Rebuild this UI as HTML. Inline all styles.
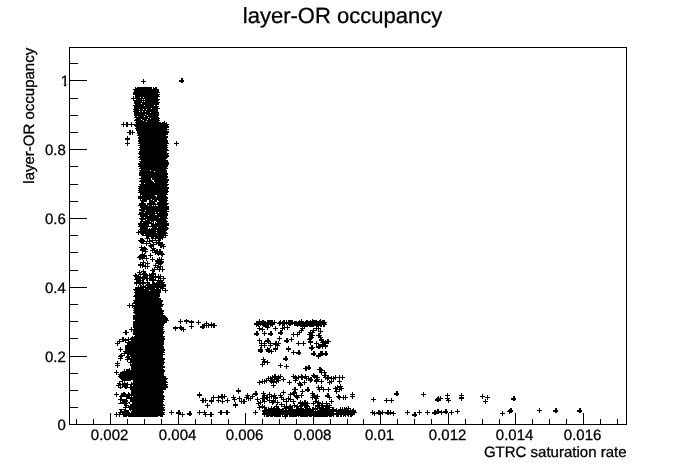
<!DOCTYPE html>
<html><head><meta charset="utf-8"><title>layer-OR occupancy</title>
<style>html,body{margin:0;padding:0;background:#fff}svg{display:block}text{font-family:"Liberation Sans",Arial,Helvetica,sans-serif;fill:#000;stroke:#000;stroke-width:0.3px;text-rendering:geometricPrecision}</style></head>
<body>
<svg width="696" height="472" viewBox="0 0 696 472">
<rect width="696" height="472" fill="#fff"/>
<g shape-rendering="crispEdges" stroke="#000" stroke-width="1" fill="none">
<rect x="69.5" y="47.5" width="557" height="377"/>
<path d="M76.5 424v-5M93.5 424v-5M110.5 424v-11M127.5 424v-5M144.5 424v-5M161.5 424v-5M178.5 424v-11M195.5 424v-5M211.5 424v-5M228.5 424v-5M245.5 424v-11M262.5 424v-5M279.5 424v-5M296.5 424v-5M313.5 424v-11M330.5 424v-5M347.5 424v-5M363.5 424v-5M380.5 424v-11M397.5 424v-5M414.5 424v-5M431.5 424v-5M448.5 424v-11M465.5 424v-5M482.5 424v-5M499.5 424v-5M515.5 424v-11M532.5 424v-5M549.5 424v-5M566.5 424v-5M583.5 424v-11M600.5 424v-5M617.5 424v-5M70 407.5h8M70 390.5h8M70 373.5h8M70 356.5h17M70 338.5h8M70 321.5h8M70 304.5h8M70 287.5h17M70 270.5h8M70 252.5h8M70 235.5h8M70 218.5h17M70 201.5h8M70 184.5h8M70 166.5h8M70 149.5h17M70 132.5h8M70 115.5h8M70 98.5h8M70 80.5h17M70 63.5h8"/>
</g>
<g font-size="15">
<text x="109.6" y="440" text-anchor="middle">0.002</text>
<text x="177.6" y="440" text-anchor="middle">0.004</text>
<text x="244.6" y="440" text-anchor="middle">0.006</text>
<text x="312.6" y="440" text-anchor="middle">0.008</text>
<text x="379.6" y="440" text-anchor="middle">0.01</text>
<text x="447.6" y="440" text-anchor="middle">0.012</text>
<text x="514.6" y="440" text-anchor="middle">0.014</text>
<text x="582.6" y="440" text-anchor="middle">0.016</text>
<text x="65.8" y="430.0" text-anchor="end">0</text>
<text x="65.8" y="362.0" text-anchor="end">0.2</text>
<text x="65.8" y="293.0" text-anchor="end">0.4</text>
<text x="65.8" y="224.0" text-anchor="end">0.6</text>
<text x="65.8" y="155.0" text-anchor="end">0.8</text>
<clipPath id="c1"><path d="M50 60H69V84.75H66.2V88.0H64.0V84.75H50Z"/></clipPath>
<g clip-path="url(#c1)"><text x="69.1" y="86.0" text-anchor="end">1</text></g>
<text x="626.5" y="457" text-anchor="end">GTRC saturation rate</text>
<text transform="translate(34.4 47.8) rotate(-90)" text-anchor="end">layer-OR occupancy</text>
</g>
<text x="342.5" y="23.2" font-size="22" text-anchor="middle">layer-OR occupancy</text>
<path shape-rendering="crispEdges" stroke="#000" stroke-width="1" fill="none" d="M181 78.5h2M143 79.5h1M181 79.5h2M143 80.5h1M179 80.5h5M141 81.5h5M179 81.5h5M143 82.5h1M181 82.5h2M143 83.5h1M135 87.5h1M137 87.5h15M153 87.5h1M155 87.5h2M135 88.5h17M153 88.5h4M133 89.5h26M134 90.5h25M134 91.5h25M133 92.5h27M133 93.5h25M133 94.5h27M135 95.5h24M133 96.5h1M135 96.5h25M133 97.5h1M135 97.5h5M141 97.5h2M144 97.5h14M131 98.5h27M133 99.5h1M136 99.5h6M143 99.5h1M145 99.5h15M133 100.5h26M134 101.5h8M143 101.5h1M145 101.5h13M134 102.5h26M134 103.5h7M142 103.5h17M135 104.5h24M133 105.5h11M145 105.5h9M155 105.5h2M134 106.5h25M134 107.5h24M134 108.5h17M152 108.5h8M133 109.5h6M140 109.5h3M144 109.5h2M147 109.5h11M134 110.5h24M133 111.5h6M140 111.5h2M143 111.5h2M146 111.5h12M134 112.5h16M151 112.5h8M134 113.5h25M134 114.5h11M146 114.5h13M134 115.5h13M148 115.5h11M135 116.5h2M138 116.5h6M145 116.5h13M134 117.5h14M149 117.5h10M136 118.5h14M151 118.5h9M135 119.5h6M142 119.5h5M148 119.5h11M134 120.5h9M144 120.5h16M136 121.5h10M147 121.5h12M164 121.5h1M123 122.5h1M126 122.5h2M131 122.5h1M135 122.5h26M162 122.5h3M166 122.5h1M123 123.5h1M126 123.5h2M131 123.5h1M136 123.5h31M121 124.5h48M123 125.5h1M126 125.5h2M131 125.5h1M134 125.5h34M123 126.5h1M126 126.5h2M131 126.5h1M135 126.5h34M136 127.5h33M135 128.5h32M136 129.5h33M129 130.5h2M132 130.5h1M136 130.5h31M129 131.5h2M132 131.5h1M137 131.5h32M127 132.5h8M137 132.5h32M129 133.5h2M132 133.5h1M137 133.5h31M129 134.5h2M132 134.5h1M138 134.5h30M137 135.5h29M127 136.5h1M139 136.5h29M127 137.5h1M138 137.5h30M125 138.5h5M138 138.5h29M125 139.5h5M139 139.5h28M127 140.5h1M138 140.5h30M127 141.5h1M138 141.5h30M176 141.5h1M127 142.5h1M139 142.5h29M176 142.5h1M125 143.5h5M138 143.5h31M174 143.5h5M127 144.5h1M140 144.5h27M176 144.5h1M127 145.5h1M138 145.5h30M176 145.5h1M140 146.5h27M139 147.5h29M140 148.5h27M138 149.5h30M140 150.5h29M139 151.5h28M139 152.5h28M138 153.5h31M139 154.5h29M140 155.5h29M139 156.5h30M138 157.5h30M140 158.5h27M139 159.5h27M141 160.5h27M139 161.5h29M140 162.5h29M138 163.5h31M138 164.5h31M139 165.5h29M138 166.5h30M140 167.5h27M139 168.5h29M141 169.5h25M139 170.5h11M151 170.5h16M140 171.5h14M155 171.5h12M139 172.5h28M139 173.5h29M139 174.5h29M139 175.5h28M141 176.5h27M141 177.5h27M139 178.5h12M152 178.5h15M141 179.5h10M152 179.5h17M140 180.5h12M154 180.5h15M139 181.5h14M154 181.5h14M141 182.5h13M155 182.5h13M141 183.5h3M145 183.5h22M139 184.5h30M140 185.5h28M138 186.5h29M139 187.5h30M138 188.5h31M139 189.5h29M138 190.5h30M139 191.5h30M138 192.5h30M140 193.5h27M140 194.5h28M140 195.5h1M142 195.5h13M157 195.5h9M138 196.5h18M157 196.5h10M138 197.5h30M138 198.5h30M140 199.5h1M142 199.5h9M152 199.5h15M140 200.5h7M149 200.5h4M154 200.5h3M158 200.5h10M141 201.5h6M149 201.5h8M159 201.5h8M141 202.5h3M149 202.5h6M157 202.5h10M139 203.5h7M147 203.5h9M157 203.5h12M139 204.5h7M147 204.5h21M138 205.5h10M149 205.5h3M153 205.5h1M155 205.5h1M158 205.5h9M140 206.5h29M140 207.5h29M141 208.5h28M139 209.5h30M139 210.5h6M146 210.5h21M141 211.5h28M139 212.5h5M145 212.5h10M156 212.5h2M159 212.5h8M139 213.5h29M138 214.5h17M157 214.5h11M140 215.5h8M149 215.5h19M140 216.5h27M141 217.5h3M145 217.5h14M160 217.5h7M139 218.5h29M140 219.5h6M147 219.5h19M141 220.5h2M145 220.5h22M140 221.5h10M151 221.5h3M156 221.5h12M140 222.5h2M143 222.5h9M153 222.5h1M155 222.5h1M157 222.5h10M138 223.5h16M155 223.5h14M138 224.5h11M151 224.5h18M139 225.5h10M151 225.5h18M138 226.5h29M140 227.5h8M152 227.5h5M158 227.5h10M140 228.5h8M149 228.5h1M151 228.5h18M139 229.5h29M138 230.5h1M140 230.5h16M157 230.5h10M138 231.5h28M136 232.5h20M157 232.5h10M138 233.5h1M140 233.5h28M138 234.5h1M141 234.5h3M145 234.5h21M142 235.5h26M146 236.5h18M165 236.5h1M146 237.5h3M151 237.5h3M155 237.5h11M140 238.5h3M145 238.5h5M151 238.5h12M140 239.5h4M147 239.5h1M149 239.5h1M152 239.5h1M155 239.5h1M158 239.5h3M162 239.5h1M138 240.5h7M147 240.5h1M149 240.5h12M139 241.5h14M156 241.5h1M158 241.5h2M140 242.5h4M146 242.5h1M149 242.5h1M152 242.5h11M141 243.5h10M153 243.5h1M156 243.5h7M146 244.5h1M150 244.5h7M158 244.5h7M141 245.5h1M146 245.5h1M148 245.5h6M158 245.5h6M141 246.5h1M144 246.5h1M149 246.5h5M160 246.5h6M139 247.5h7M150 247.5h2M153 247.5h1M160 247.5h2M163 247.5h1M141 248.5h6M151 248.5h5M163 248.5h1M140 249.5h8M152 249.5h3M156 249.5h2M159 249.5h2M140 250.5h6M150 250.5h8M159 250.5h2M142 251.5h6M152 251.5h1M154 251.5h9M142 252.5h1M145 252.5h1M152 252.5h11M142 253.5h1M144 253.5h2M150 253.5h1M155 253.5h9M140 254.5h5M150 254.5h1M155 254.5h1M157 254.5h8M139 255.5h8M148 255.5h5M158 255.5h1M161 255.5h2M138 256.5h9M150 256.5h1M162 256.5h1M137 257.5h8M146 257.5h1M150 257.5h1M152 257.5h1M159 257.5h1M161 257.5h1M139 258.5h10M152 258.5h1M157 258.5h1M159 258.5h1M161 258.5h1M139 259.5h2M142 259.5h1M146 259.5h1M150 259.5h5M157 259.5h7M143 260.5h1M146 260.5h1M152 260.5h1M155 260.5h7M143 261.5h1M147 261.5h1M152 261.5h1M155 261.5h9M140 262.5h6M147 262.5h1M156 262.5h8M140 263.5h1M142 263.5h2M145 263.5h5M155 263.5h8M138 264.5h6M145 264.5h1M147 264.5h1M155 264.5h1M158 264.5h4M138 265.5h8M147 265.5h1M153 265.5h6M160 265.5h1M140 266.5h1M142 266.5h8M155 266.5h1M157 266.5h6M140 267.5h1M142 267.5h1M145 267.5h1M147 267.5h1M154 267.5h7M162 267.5h1M145 268.5h1M147 268.5h1M152 268.5h1M154 268.5h1M157 268.5h1M159 268.5h2M162 268.5h1M143 269.5h1M152 269.5h13M139 270.5h1M143 270.5h1M150 270.5h5M159 270.5h1M162 270.5h1M139 271.5h1M141 271.5h5M152 271.5h3M159 271.5h1M162 271.5h1M137 272.5h5M143 272.5h3M152 272.5h2M135 273.5h1M139 273.5h2M142 273.5h5M149 273.5h1M151 273.5h5M135 274.5h2M138 274.5h10M149 274.5h7M158 274.5h1M160 274.5h1M133 275.5h6M140 275.5h1M143 275.5h11M155 275.5h1M158 275.5h1M160 275.5h1M134 276.5h7M142 276.5h6M149 276.5h15M135 277.5h13M149 277.5h12M163 277.5h1M135 278.5h19M155 278.5h1M158 278.5h8M134 279.5h7M142 279.5h3M146 279.5h2M149 279.5h7M158 279.5h1M160 279.5h1M163 279.5h1M136 280.5h8M146 280.5h2M149 280.5h15M136 281.5h5M142 281.5h2M147 281.5h1M152 281.5h2M157 281.5h6M134 282.5h16M152 282.5h3M156 282.5h9M134 283.5h12M147 283.5h3M152 283.5h12M136 284.5h1M139 284.5h2M142 284.5h2M146 284.5h20M136 285.5h1M138 285.5h1M140 285.5h2M143 285.5h1M145 285.5h21M138 286.5h1M140 286.5h6M147 286.5h19M135 287.5h29M135 288.5h9M145 288.5h10M156 288.5h3M160 288.5h6M133 289.5h28M162 289.5h1M165 289.5h1M134 290.5h15M150 290.5h11M162 290.5h6M135 291.5h26M165 291.5h1M134 292.5h27M165 292.5h1M135 293.5h25M135 294.5h25M134 295.5h26M133 296.5h27M135 297.5h24M135 298.5h26M135 299.5h26M133 300.5h30M134 301.5h29M133 302.5h29M129 303.5h1M132 303.5h30M129 304.5h1M132 304.5h1M135 304.5h29M127 305.5h36M129 306.5h1M132 306.5h31M129 307.5h1M132 307.5h1M134 307.5h27M133 308.5h29M134 309.5h28M133 310.5h31M134 311.5h30M133 312.5h30M134 313.5h30M135 314.5h28M133 315.5h32M133 316.5h33M133 317.5h34M133 318.5h35M133 319.5h35M180 319.5h1M186 319.5h1M259 319.5h1M301 319.5h1M312 319.5h1M320 319.5h1M135 320.5h34M180 320.5h1M184 320.5h5M191 320.5h1M198 320.5h1M259 320.5h1M262 320.5h2M267 320.5h6M274 320.5h1M280 320.5h1M283 320.5h2M286 320.5h1M288 320.5h5M299 320.5h1M301 320.5h1M306 320.5h2M310 320.5h1M312 320.5h5M319 320.5h2M322 320.5h3M133 321.5h34M178 321.5h5M184 321.5h10M198 321.5h1M206 321.5h1M256 321.5h10M267 321.5h6M274 321.5h1M279 321.5h2M282 321.5h3M286 321.5h1M288 321.5h5M294 321.5h3M298 321.5h6M305 321.5h20M133 322.5h34M180 322.5h1M186 322.5h1M189 322.5h5M196 322.5h5M206 322.5h1M211 322.5h1M256 322.5h21M278 322.5h49M133 323.5h32M180 323.5h1M186 323.5h1M191 323.5h1M198 323.5h1M204 323.5h5M211 323.5h1M213 323.5h2M254 323.5h21M277 323.5h49M133 324.5h31M191 324.5h1M198 324.5h1M202 324.5h3M206 324.5h1M208 324.5h7M254 324.5h21M279 324.5h2M282 324.5h3M286 324.5h1M288 324.5h5M294 324.5h33M133 325.5h31M180 325.5h1M191 325.5h1M202 325.5h15M256 325.5h3M260 325.5h1M262 325.5h7M270 325.5h3M279 325.5h1M282 325.5h3M287 325.5h1M289 325.5h2M294 325.5h28M323 325.5h2M133 326.5h30M175 326.5h1M180 326.5h2M189 326.5h5M200 326.5h5M206 326.5h1M208 326.5h1M211 326.5h1M213 326.5h2M256 326.5h1M258 326.5h2M263 326.5h6M270 326.5h1M272 326.5h1M275 326.5h1M282 326.5h1M284 326.5h1M287 326.5h1M297 326.5h1M300 326.5h8M309 326.5h5M316 326.5h3M320 326.5h2M323 326.5h2M131 327.5h1M133 327.5h31M173 327.5h11M191 327.5h1M200 327.5h5M206 327.5h1M208 327.5h1M211 327.5h1M213 327.5h2M259 327.5h1M262 327.5h1M265 327.5h5M275 327.5h1M282 327.5h8M302 327.5h1M304 327.5h1M316 327.5h1M318 327.5h1M131 328.5h1M134 328.5h29M173 328.5h5M179 328.5h5M191 328.5h1M202 328.5h2M257 328.5h6M267 328.5h1M273 328.5h5M280 328.5h5M287 328.5h1M300 328.5h5M313 328.5h8M129 329.5h35M175 329.5h1M180 329.5h6M259 329.5h6M267 329.5h1M275 329.5h1M282 329.5h1M284 329.5h1M287 329.5h1M301 329.5h2M313 329.5h1M316 329.5h1M318 329.5h1M320 329.5h1M125 330.5h2M131 330.5h1M133 330.5h30M175 330.5h1M181 330.5h1M183 330.5h1M259 330.5h1M262 330.5h1M275 330.5h1M280 330.5h3M299 330.5h5M310 330.5h7M318 330.5h1M320 330.5h1M125 331.5h2M131 331.5h1M133 331.5h32M183 331.5h1M256 331.5h2M262 331.5h1M264 331.5h1M270 331.5h2M280 331.5h2M299 331.5h1M301 331.5h1M310 331.5h1M312 331.5h2M318 331.5h5M123 332.5h6M133 332.5h31M256 332.5h2M264 332.5h1M270 332.5h2M278 332.5h5M293 332.5h1M297 332.5h5M308 332.5h7M320 332.5h1M125 333.5h2M133 333.5h31M254 333.5h5M262 333.5h5M268 333.5h5M278 333.5h5M293 333.5h1M297 333.5h1M299 333.5h1M309 333.5h4M318 333.5h3M125 334.5h2M133 334.5h30M254 334.5h5M264 334.5h1M268 334.5h5M280 334.5h2M291 334.5h9M307 334.5h6M318 334.5h2M135 335.5h28M256 335.5h2M264 335.5h1M270 335.5h2M293 335.5h1M297 335.5h1M309 335.5h6M316 335.5h6M132 336.5h1M134 336.5h31M279 336.5h1M293 336.5h1M297 336.5h1M309 336.5h4M318 336.5h3M122 337.5h2M128 337.5h1M131 337.5h33M279 337.5h1M291 337.5h1M309 337.5h5M318 337.5h5M122 338.5h2M125 338.5h1M128 338.5h1M130 338.5h35M259 338.5h1M267 338.5h2M277 338.5h5M286 338.5h2M291 338.5h1M308 338.5h5M320 338.5h2M119 339.5h46M259 339.5h1M267 339.5h2M279 339.5h1M286 339.5h2M289 339.5h5M307 339.5h5M319 339.5h5M327 339.5h2M119 340.5h1M122 340.5h7M131 340.5h33M257 340.5h5M265 340.5h5M279 340.5h1M284 340.5h5M291 340.5h1M309 340.5h2M319 340.5h5M325 340.5h1M327 340.5h2M117 341.5h7M125 341.5h1M128 341.5h36M259 341.5h1M261 341.5h1M264 341.5h7M275 341.5h2M278 341.5h1M284 341.5h5M291 341.5h1M298 341.5h1M303 341.5h1M308 341.5h5M316 341.5h1M321 341.5h10M117 342.5h1M119 342.5h1M125 342.5h39M259 342.5h1M261 342.5h1M264 342.5h1M267 342.5h2M270 342.5h1M275 342.5h2M278 342.5h1M286 342.5h2M298 342.5h1M303 342.5h1M308 342.5h5M316 342.5h1M320 342.5h9M115 343.5h5M127 343.5h37M259 343.5h8M268 343.5h13M296 343.5h10M310 343.5h1M314 343.5h5M322 343.5h7M117 344.5h1M127 344.5h37M261 344.5h1M264 344.5h1M270 344.5h1M273 344.5h6M298 344.5h1M303 344.5h1M310 344.5h1M316 344.5h1M318 344.5h8M117 345.5h1M125 345.5h38M259 345.5h8M268 345.5h5M275 345.5h5M298 345.5h1M303 345.5h1M311 345.5h2M316 345.5h1M318 345.5h10M125 346.5h39M261 346.5h1M264 346.5h1M270 346.5h1M275 346.5h1M277 346.5h1M288 346.5h1M311 346.5h2M316 346.5h12M120 347.5h1M125 347.5h39M260 347.5h2M264 347.5h1M267 347.5h1M270 347.5h1M275 347.5h1M277 347.5h1M288 347.5h1M309 347.5h6M316 347.5h5M322 347.5h1M325 347.5h1M120 348.5h1M125 348.5h39M260 348.5h2M267 348.5h3M273 348.5h5M286 348.5h5M309 348.5h5M318 348.5h2M322 348.5h1M325 348.5h1M118 349.5h5M125 349.5h40M258 349.5h5M265 349.5h5M271 349.5h1M273 349.5h5M286 349.5h5M311 349.5h2M120 350.5h1M125 350.5h40M258 350.5h5M266 350.5h6M275 350.5h1M288 350.5h1M293 350.5h1M298 350.5h2M311 350.5h1M120 351.5h1M123 351.5h41M258 351.5h5M266 351.5h8M275 351.5h1M288 351.5h1M293 351.5h1M298 351.5h2M313 351.5h2M320 351.5h3M325 351.5h2M124 352.5h41M260 352.5h2M268 352.5h2M271 352.5h1M291 352.5h10M313 352.5h2M320 352.5h3M325 352.5h2M121 353.5h42M271 353.5h1M293 353.5h1M296 353.5h5M311 353.5h5M318 353.5h10M120 354.5h2M124 354.5h1M127 354.5h38M293 354.5h1M298 354.5h2M311 354.5h5M318 354.5h10M119 355.5h6M127 355.5h2M130 355.5h33M313 355.5h2M316 355.5h7M325 355.5h2M118 356.5h5M126 356.5h37M285 356.5h2M316 356.5h5M120 357.5h2M125 357.5h5M131 357.5h32M263 357.5h1M285 357.5h2M318 357.5h1M118 358.5h5M127 358.5h38M263 358.5h1M283 358.5h5M318 358.5h1M120 359.5h1M125 359.5h40M261 359.5h5M283 359.5h5M120 360.5h1M127 360.5h1M130 360.5h34M263 360.5h2M267 360.5h1M285 360.5h2M117 361.5h1M127 361.5h1M130 361.5h34M262 361.5h6M117 362.5h1M128 362.5h37M262 362.5h8M115 363.5h5M130 363.5h1M132 363.5h32M262 363.5h1M264 363.5h1M267 363.5h1M280 363.5h1M117 364.5h1M130 364.5h34M260 364.5h5M267 364.5h1M280 364.5h1M286 364.5h1M115 365.5h5M130 365.5h33M262 365.5h1M278 365.5h5M286 365.5h1M308 365.5h2M117 366.5h1M131 366.5h34M262 366.5h1M280 366.5h1M284 366.5h5M305 366.5h2M308 366.5h2M117 367.5h1M131 367.5h34M280 367.5h1M286 367.5h1M305 367.5h6M319 367.5h2M129 368.5h1M131 368.5h32M286 368.5h1M303 368.5h8M319 368.5h3M124 369.5h1M126 369.5h4M131 369.5h33M305 369.5h2M308 369.5h2M317 369.5h6M116 370.5h1M124 370.5h1M126 370.5h39M305 370.5h2M319 370.5h6M116 371.5h1M122 371.5h43M319 371.5h3M324 371.5h1M114 372.5h5M120 372.5h44M319 372.5h8M116 373.5h1M120 373.5h44M313 373.5h1M321 373.5h1M324 373.5h2M116 374.5h1M118 374.5h46M274 374.5h2M280 374.5h1M293 374.5h1M301 374.5h1M305 374.5h1M313 374.5h2M321 374.5h1M324 374.5h2M119 375.5h45M272 375.5h1M274 375.5h2M278 375.5h1M280 375.5h1M293 375.5h1M295 375.5h1M298 375.5h1M301 375.5h2M305 375.5h1M311 375.5h7M322 375.5h7M335 375.5h1M339 375.5h1M342 375.5h1M118 376.5h48M268 376.5h1M270 376.5h1M272 376.5h11M291 376.5h6M298 376.5h11M312 376.5h6M324 376.5h2M327 376.5h2M331 376.5h1M333 376.5h1M335 376.5h1M339 376.5h1M342 376.5h1M119 377.5h47M268 377.5h1M270 377.5h11M283 377.5h1M293 377.5h14M308 377.5h1M310 377.5h2M313 377.5h7M323 377.5h9M333 377.5h12M120 378.5h48M266 378.5h7M274 378.5h7M283 378.5h1M293 378.5h6M301 378.5h2M304 378.5h8M314 378.5h1M316 378.5h2M325 378.5h11M339 378.5h1M342 378.5h1M121 379.5h46M262 379.5h1M264 379.5h1M266 379.5h1M268 379.5h1M270 379.5h9M281 379.5h5M295 379.5h2M298 379.5h1M301 379.5h2M306 379.5h1M308 379.5h5M315 379.5h5M321 379.5h1M325 379.5h1M327 379.5h2M331 379.5h1M333 379.5h1M335 379.5h1M339 379.5h1M342 379.5h1M122 380.5h9M133 380.5h33M259 380.5h1M262 380.5h1M264 380.5h11M276 380.5h5M283 380.5h1M289 380.5h1M293 380.5h5M304 380.5h1M306 380.5h1M308 380.5h5M314 380.5h5M321 380.5h1M327 380.5h1M329 380.5h1M331 380.5h1M333 380.5h1M339 380.5h1M119 381.5h4M124 381.5h1M133 381.5h34M259 381.5h8M269 381.5h10M283 381.5h1M289 381.5h1M295 381.5h1M299 381.5h1M304 381.5h1M310 381.5h2M314 381.5h10M329 381.5h5M337 381.5h5M119 382.5h1M122 382.5h1M124 382.5h1M127 382.5h1M131 382.5h1M133 382.5h35M257 382.5h6M264 382.5h1M266 382.5h1M270 382.5h7M278 382.5h1M287 382.5h5M295 382.5h1M299 382.5h2M302 382.5h5M310 382.5h1M316 382.5h1M321 382.5h1M327 382.5h5M339 382.5h1M117 383.5h4M122 383.5h6M131 383.5h35M259 383.5h1M262 383.5h1M264 383.5h1M271 383.5h1M273 383.5h1M276 383.5h1M289 383.5h1M297 383.5h5M304 383.5h1M316 383.5h1M321 383.5h1M329 383.5h1M331 383.5h1M339 383.5h1M118 384.5h50M259 384.5h1M273 384.5h1M289 384.5h1M298 384.5h5M304 384.5h1M329 384.5h1M340 384.5h1M116 385.5h5M122 385.5h6M130 385.5h2M133 385.5h34M271 385.5h5M298 385.5h5M318 385.5h1M321 385.5h1M337 385.5h1M340 385.5h1M118 386.5h1M120 386.5h1M122 386.5h6M130 386.5h38M273 386.5h1M300 386.5h1M318 386.5h1M321 386.5h1M335 386.5h1M337 386.5h6M118 387.5h5M124 387.5h44M273 387.5h1M294 387.5h2M300 387.5h1M307 387.5h2M316 387.5h8M328 387.5h1M335 387.5h7M120 388.5h1M125 388.5h2M130 388.5h36M238 388.5h1M294 388.5h2M307 388.5h2M318 388.5h2M321 388.5h1M323 388.5h1M328 388.5h1M333 388.5h5M339 388.5h5M130 389.5h36M238 389.5h1M292 389.5h6M302 389.5h1M305 389.5h5M317 389.5h14M335 389.5h7M131 390.5h32M236 390.5h5M283 390.5h1M294 390.5h2M302 390.5h1M305 390.5h5M319 390.5h1M323 390.5h1M328 390.5h1M335 390.5h2M339 390.5h1M341 390.5h1M131 391.5h33M236 391.5h5M255 391.5h2M263 391.5h1M283 391.5h1M293 391.5h3M300 391.5h5M307 391.5h2M312 391.5h1M319 391.5h1M323 391.5h1M328 391.5h1M334 391.5h6M396 391.5h2M116 392.5h1M123 392.5h2M128 392.5h1M131 392.5h33M199 392.5h1M238 392.5h1M255 392.5h2M263 392.5h1M269 392.5h1M281 392.5h5M290 392.5h1M292 392.5h5M302 392.5h1M312 392.5h1M336 392.5h1M352 392.5h1M396 392.5h2M423 392.5h1M116 393.5h1M121 393.5h5M128 393.5h2M131 393.5h32M199 393.5h1M238 393.5h1M247 393.5h1M253 393.5h5M261 393.5h5M269 393.5h1M274 393.5h1M280 393.5h1M283 393.5h1M290 393.5h7M301 393.5h2M310 393.5h5M327 393.5h2M336 393.5h1M352 393.5h1M394 393.5h5M423 393.5h1M447 393.5h1M461 393.5h1M114 394.5h5M121 394.5h42M197 394.5h5M221 394.5h2M224 394.5h1M247 394.5h1M252 394.5h6M263 394.5h2M267 394.5h5M274 394.5h1M280 394.5h1M283 394.5h1M288 394.5h7M296 394.5h1M301 394.5h1M312 394.5h3M317 394.5h1M327 394.5h2M338 394.5h1M350 394.5h5M394 394.5h5M421 394.5h5M447 394.5h1M461 394.5h1M482 394.5h1M116 395.5h1M120 395.5h44M197 395.5h5M213 395.5h1M218 395.5h1M221 395.5h2M224 395.5h1M233 395.5h1M245 395.5h5M252 395.5h1M255 395.5h2M262 395.5h6M269 395.5h1M271 395.5h6M278 395.5h5M290 395.5h1M293 395.5h11M311 395.5h7M325 395.5h5M338 395.5h2M343 395.5h1M345 395.5h1M352 395.5h1M396 395.5h2M423 395.5h1M445 395.5h5M459 395.5h5M482 395.5h1M487 395.5h1M116 396.5h1M119 396.5h11M131 396.5h1M133 396.5h32M199 396.5h1M213 396.5h1M218 396.5h9M233 396.5h1M239 396.5h1M246 396.5h3M250 396.5h5M262 396.5h3M266 396.5h2M269 396.5h7M280 396.5h2M288 396.5h1M290 396.5h1M294 396.5h5M301 396.5h1M312 396.5h8M325 396.5h5M336 396.5h5M343 396.5h1M345 396.5h1M350 396.5h5M423 396.5h1M438 396.5h1M440 396.5h1M447 396.5h1M461 396.5h1M480 396.5h5M487 396.5h1M513 396.5h2M120 397.5h2M126 397.5h38M199 397.5h1M211 397.5h14M231 397.5h5M239 397.5h1M244 397.5h5M250 397.5h1M252 397.5h1M257 397.5h1M262 397.5h8M271 397.5h1M273 397.5h5M279 397.5h5M288 397.5h1M290 397.5h1M295 397.5h5M301 397.5h1M310 397.5h8M327 397.5h5M337 397.5h11M352 397.5h1M373 397.5h1M437 397.5h2M440 397.5h1M447 397.5h1M459 397.5h5M482 397.5h1M485 397.5h5M513 397.5h2M120 398.5h2M126 398.5h38M202 398.5h2M205 398.5h1M211 398.5h1M213 398.5h1M218 398.5h1M221 398.5h2M224 398.5h1M227 398.5h1M233 398.5h2M237 398.5h5M246 398.5h7M257 398.5h1M260 398.5h8M269 398.5h1M271 398.5h1M273 398.5h5M281 398.5h1M283 398.5h1M286 398.5h5M296 398.5h2M312 398.5h1M314 398.5h5M329 398.5h1M338 398.5h2M343 398.5h1M345 398.5h1M352 398.5h1M373 398.5h1M386 398.5h1M391 398.5h1M436 398.5h7M445 398.5h5M459 398.5h5M482 398.5h1M487 398.5h1M511 398.5h5M118 399.5h9M130 399.5h35M202 399.5h2M205 399.5h1M211 399.5h1M213 399.5h1M218 399.5h1M222 399.5h1M227 399.5h1M232 399.5h5M239 399.5h1M241 399.5h1M243 399.5h2M246 399.5h1M248 399.5h1M250 399.5h1M255 399.5h5M262 399.5h3M266 399.5h2M269 399.5h1M273 399.5h1M275 399.5h1M281 399.5h6M288 399.5h6M297 399.5h1M312 399.5h1M315 399.5h2M329 399.5h1M331 399.5h1M339 399.5h1M343 399.5h1M345 399.5h1M371 399.5h5M386 399.5h1M391 399.5h1M435 399.5h6M447 399.5h2M461 399.5h1M485 399.5h1M487 399.5h1M511 399.5h5M120 400.5h8M130 400.5h33M200 400.5h8M209 400.5h5M216 400.5h5M222 400.5h1M225 400.5h5M234 400.5h1M239 400.5h1M241 400.5h1M243 400.5h2M248 400.5h1M250 400.5h1M257 400.5h1M260 400.5h1M262 400.5h3M267 400.5h9M277 400.5h1M283 400.5h1M286 400.5h1M288 400.5h1M290 400.5h1M293 400.5h1M300 400.5h1M304 400.5h2M315 400.5h2M318 400.5h1M331 400.5h1M373 400.5h1M384 400.5h10M435 400.5h6M446 400.5h5M461 400.5h1M485 400.5h1M513 400.5h2M120 401.5h1M122 401.5h6M130 401.5h34M202 401.5h2M205 401.5h1M209 401.5h5M218 401.5h1M220 401.5h5M227 401.5h1M234 401.5h1M239 401.5h8M257 401.5h2M260 401.5h1M262 401.5h5M269 401.5h1M271 401.5h5M277 401.5h1M283 401.5h6M290 401.5h6M300 401.5h1M302 401.5h1M304 401.5h2M307 401.5h1M313 401.5h6M322 401.5h1M326 401.5h1M329 401.5h5M373 401.5h1M386 401.5h1M391 401.5h1M437 401.5h2M448 401.5h1M483 401.5h5M120 402.5h7M128 402.5h2M132 402.5h31M202 402.5h2M205 402.5h1M211 402.5h1M218 402.5h1M222 402.5h1M227 402.5h1M235 402.5h1M241 402.5h1M243 402.5h2M258 402.5h5M264 402.5h1M269 402.5h11M281 402.5h1M286 402.5h1M293 402.5h1M298 402.5h10M313 402.5h1M315 402.5h6M322 402.5h1M326 402.5h1M331 402.5h1M386 402.5h1M391 402.5h1M448 402.5h1M485 402.5h1M118 403.5h10M129 403.5h1M132 403.5h31M207 403.5h1M211 403.5h1M222 403.5h1M235 403.5h1M241 403.5h1M243 403.5h2M256 403.5h5M264 403.5h1M272 403.5h2M277 403.5h1M281 403.5h1M286 403.5h1M293 403.5h2M298 403.5h12M311 403.5h5M317 403.5h13M331 403.5h1M485 403.5h1M124 404.5h3M130 404.5h34M207 404.5h1M233 404.5h5M258 404.5h1M260 404.5h1M262 404.5h1M272 404.5h1M276 404.5h2M279 404.5h6M286 404.5h1M290 404.5h1M294 404.5h1M297 404.5h1M300 404.5h8M313 404.5h1M317 404.5h3M321 404.5h2M326 404.5h2M329 404.5h1M124 405.5h5M130 405.5h35M205 405.5h5M233 405.5h5M258 405.5h2M262 405.5h1M264 405.5h1M276 405.5h1M281 405.5h1M284 405.5h1M286 405.5h1M289 405.5h2M292 405.5h6M299 405.5h10M313 405.5h1M315 405.5h17M125 406.5h2M128 406.5h35M207 406.5h1M235 406.5h1M259 406.5h6M271 406.5h1M274 406.5h5M281 406.5h12M294 406.5h9M304 406.5h6M315 406.5h5M321 406.5h9M348 406.5h1M123 407.5h42M207 407.5h1M235 407.5h1M257 407.5h10M268 407.5h1M271 407.5h1M273 407.5h2M276 407.5h3M284 407.5h9M294 407.5h1M296 407.5h3M300 407.5h2M304 407.5h4M309 407.5h1M312 407.5h2M315 407.5h1M317 407.5h7M325 407.5h9M340 407.5h1M342 407.5h1M344 407.5h1M346 407.5h1M348 407.5h1M125 408.5h1M129 408.5h35M259 408.5h1M262 408.5h1M264 408.5h3M268 408.5h12M282 408.5h11M296 408.5h8M305 408.5h6M312 408.5h18M332 408.5h2M336 408.5h1M340 408.5h1M342 408.5h1M344 408.5h7M353 408.5h1M510 408.5h2M539 408.5h1M555 408.5h2M579 408.5h2M119 409.5h7M129 409.5h36M259 409.5h1M264 409.5h20M285 409.5h2M288 409.5h30M319 409.5h18M338 409.5h11M350 409.5h1M352 409.5h2M437 409.5h2M445 409.5h2M457 409.5h1M509 409.5h3M539 409.5h1M555 409.5h2M579 409.5h2M120 410.5h2M124 410.5h5M130 410.5h1M132 410.5h33M171 410.5h1M178 410.5h2M199 410.5h1M204 410.5h1M220 410.5h2M226 410.5h2M255 410.5h1M262 410.5h52M315 410.5h1M317 410.5h39M372 410.5h1M378 410.5h2M382 410.5h1M387 410.5h2M390 410.5h1M407 410.5h1M419 410.5h1M427 410.5h1M434 410.5h2M437 410.5h2M441 410.5h1M445 410.5h2M451 410.5h1M457 410.5h1M508 410.5h5M537 410.5h5M553 410.5h5M577 410.5h5M120 411.5h9M131 411.5h32M171 411.5h1M178 411.5h2M189 411.5h2M199 411.5h1M204 411.5h1M220 411.5h2M226 411.5h2M255 411.5h1M262 411.5h94M372 411.5h1M374 411.5h1M378 411.5h3M382 411.5h1M387 411.5h2M390 411.5h1M393 411.5h1M407 411.5h1M419 411.5h1M427 411.5h1M434 411.5h8M443 411.5h5M451 411.5h1M455 411.5h5M502 411.5h1M507 411.5h6M539 411.5h1M553 411.5h5M577 411.5h5M116 412.5h1M118 412.5h12M131 412.5h34M169 412.5h5M176 412.5h5M182 412.5h1M189 412.5h2M197 412.5h10M210 412.5h2M218 412.5h12M253 412.5h5M263 412.5h71M336 412.5h21M370 412.5h5M376 412.5h18M405 412.5h5M414 412.5h2M417 412.5h5M425 412.5h5M432 412.5h16M449 412.5h5M457 412.5h1M502 412.5h1M509 412.5h3M539 412.5h1M555 412.5h2M579 412.5h2M116 413.5h1M119 413.5h2M122 413.5h42M171 413.5h1M176 413.5h5M182 413.5h1M187 413.5h5M199 413.5h1M204 413.5h2M210 413.5h2M220 413.5h2M226 413.5h2M255 413.5h1M262 413.5h93M372 413.5h11M385 413.5h11M407 413.5h1M414 413.5h2M419 413.5h1M427 413.5h1M432 413.5h7M441 413.5h1M445 413.5h2M451 413.5h1M457 413.5h1M500 413.5h5M509 413.5h1M114 414.5h51M171 414.5h1M178 414.5h7M187 414.5h5M199 414.5h1M203 414.5h11M220 414.5h2M226 414.5h2M255 414.5h1M262 414.5h93M372 414.5h1M374 414.5h1M378 414.5h3M382 414.5h1M387 414.5h2M390 414.5h1M393 414.5h1M407 414.5h1M412 414.5h5M419 414.5h1M427 414.5h1M434 414.5h2M441 414.5h1M451 414.5h1M502 414.5h1M116 415.5h1M119 415.5h1M123 415.5h40M182 415.5h1M189 415.5h2M205 415.5h1M210 415.5h2M264 415.5h1M266 415.5h15M282 415.5h1M284 415.5h4M289 415.5h45M336 415.5h3M340 415.5h2M343 415.5h3M347 415.5h2M350 415.5h3M374 415.5h1M380 415.5h1M393 415.5h1M412 415.5h5M502 415.5h1M116 416.5h1M119 416.5h1M123 416.5h4M128 416.5h30M160 416.5h3M182 416.5h1M205 416.5h1M210 416.5h2M264 416.5h1M266 416.5h3M270 416.5h3M274 416.5h7M282 416.5h6M289 416.5h8M298 416.5h1M300 416.5h8M309 416.5h3M313 416.5h15M329 416.5h3M333 416.5h1M336 416.5h3M340 416.5h2M343 416.5h1M345 416.5h1M348 416.5h1M350 416.5h2M414 416.5h2M285 417.5h1M285 418.5h1"/>
</svg>
</body></html>
